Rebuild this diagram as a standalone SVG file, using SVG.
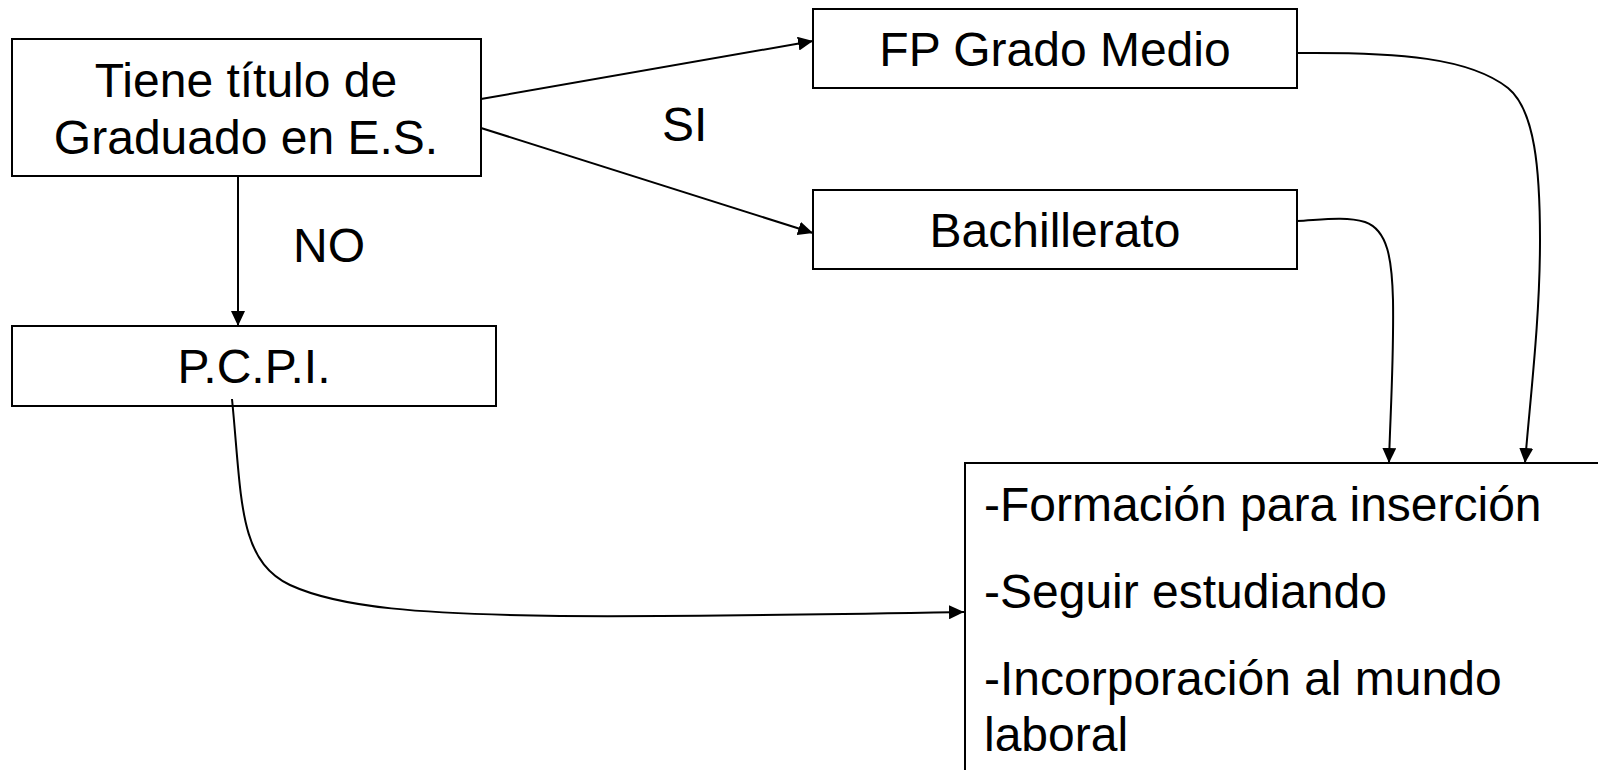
<svg xmlns="http://www.w3.org/2000/svg" width="1598" height="770" viewBox="0 0 1598 770">
<style>
.box{fill:#fff;stroke:#000;stroke-width:2}
.t{font-family:"Liberation Sans",Arial,sans-serif;font-size:48px;fill:#000}
.c{text-anchor:middle}
.conn{fill:none;stroke:#000;stroke-width:2}
</style>
<defs>
<marker id="arr" markerUnits="userSpaceOnUse" markerWidth="16" markerHeight="14" refX="15" refY="7" orient="auto">
<path d="M0,0 L15,7 L0,14 z" fill="#000"/>
</marker>
</defs>
<rect width="1598" height="770" fill="#fff"/>
<g id="n-titulo">
<rect class="box" x="12" y="39" width="469" height="137"/>
<text class="t c" x="246" y="97">Tiene título de</text>
<text class="t c" x="246" y="154">Graduado en E.S.</text>
</g>
<g id="n-fp">
<rect class="box" x="813" y="9" width="484" height="79"/>
<text class="t c" x="1055" y="66">FP Grado Medio</text>
</g>
<g id="n-bach">
<rect class="box" x="813" y="190" width="484" height="79"/>
<text class="t c" x="1055" y="247">Bachillerato</text>
</g>
<g id="n-pcpi">
<rect class="box" x="12" y="326" width="484" height="80"/>
<text class="t c" x="254" y="383">P.C.P.I.</text>
</g>
<g id="n-salidas">
<rect class="box" x="965" y="463" width="700" height="400"/>
<text class="t" x="984" y="521">-Formación para inserción</text>
<text class="t" x="984" y="608">-Seguir estudiando</text>
<text class="t" x="984" y="695">-Incorporación al mundo</text>
<text class="t" x="984" y="751">laboral</text>
</g>
<g id="connectors">
<path class="conn" d="M481,99 L813,41" marker-end="url(#arr)"/>
<path class="conn" d="M481,128 L813,233" marker-end="url(#arr)"/>
<path class="conn" d="M238,176 L238,326" marker-end="url(#arr)"/>
<path class="conn" d="M1297,53 C1400,52 1470,58 1508,88 C1535,110 1540,170 1540,240 C1540,320 1530,400 1525,463" marker-end="url(#arr)"/>
<path class="conn" d="M1297,221 C1320,220 1345,216 1365,222 C1388,230 1392,260 1393,300 C1394,360 1390,420 1389,463" marker-end="url(#arr)"/>
<path class="conn" d="M232,399 C242,500 238,560 290,585 C340,608 420,614 560,616 C700,617 850,614 964,612" marker-end="url(#arr)"/>
</g>
<g id="labels">
<text class="t" x="662" y="141">SI</text>
<text class="t" x="293" y="262">NO</text>
</g>
</svg>
